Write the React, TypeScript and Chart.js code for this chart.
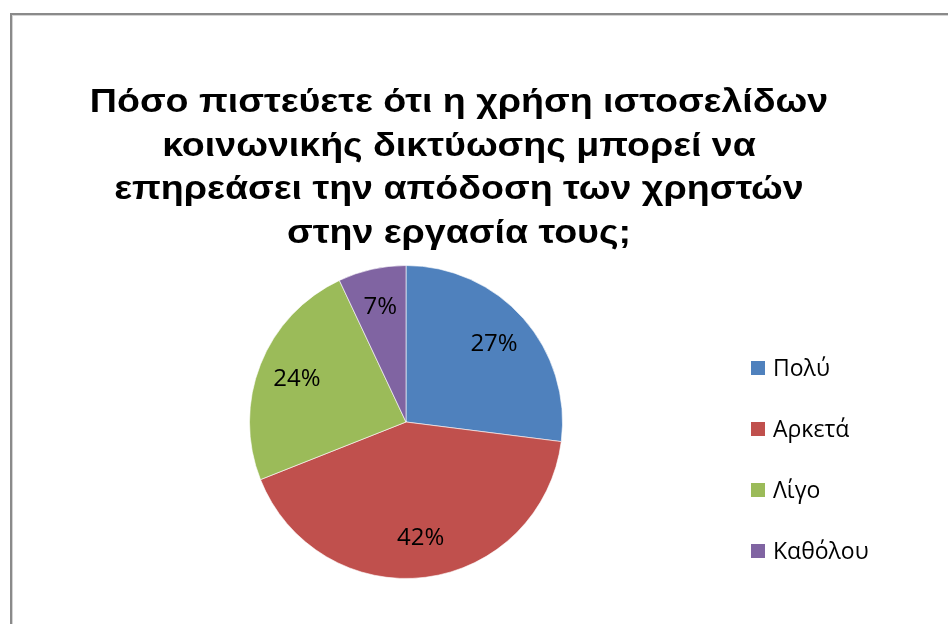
import React, { useEffect, useRef } from "react";
import { Chart, registerables } from "chart.js";

Chart.register(...registerables);

const titleLines = [
  "Πόσο πιστεύετε ότι η χρήση ιστοσελίδων",
  "κοινωνικής δικτύωσης μπορεί να",
  "επηρεάσει την απόδοση των χρηστών",
  "στην εργασία τους;",
];
const categories = ["Πολύ", "Αρκετά", "Λίγο", "Καθόλου"];
const values = [27, 42, 24, 7];
const colors = ["#4F81BD", "#C0504D", "#9BBB59", "#8064A2"];

const decorPlugin = {
  id: "decor",
  beforeDraw(chart: any) {
    const ctx = chart.ctx;
    ctx.save();
    ctx.fillStyle = "#ffffff";
    ctx.fillRect(0, 0, chart.width, chart.height);
    // frame
    ctx.fillStyle = "#8a8a8a";
    ctx.fillRect(10, 13, 2, chart.height);
    ctx.fillRect(10, 13, chart.width, 2);
    ctx.fillStyle = "#d4d4d4";
    ctx.fillRect(12, 15, 1, chart.height);
    ctx.fillRect(12, 15, chart.width, 1);
    ctx.restore();
  },
  afterDraw(chart: any) {
    const ctx = chart.ctx;
    ctx.save();
    // title
    ctx.fillStyle = "#000000";
    ctx.font = "bold 34px 'Liberation Sans'";
    ctx.textAlign = "center";
    ctx.textBaseline = "alphabetic";
    const baselines = [112, 155.5, 199, 242.5];
    ctx.save();
    ctx.translate(459, 0);
    ctx.scale(1.105, 1);
    titleLines.forEach((t, i) => ctx.fillText(t, 0, baselines[i]));
    ctx.restore();

    // data labels
    const meta = chart.getDatasetMeta(0);
    const total = values.reduce((a, b) => a + b, 0);
    ctx.font = "24px 'Open Sans'";
    ctx.textBaseline = "middle";
    meta.data.forEach((arc: any, i: number) => {
      const p = arc.getProps(["x", "y", "startAngle", "endAngle", "outerRadius"], true);
      const mid = (p.startAngle + p.endAngle) / 2;
      const r = p.outerRadius * 0.75;
      const pct = Math.round((values[i] / total) * 100) + "%";
      ctx.fillText(pct, p.x + Math.cos(mid) * r, p.y + Math.sin(mid) * r);
    });

    // legend
    const rows = [368, 429, 490, 551];
    ctx.textAlign = "left";
    ctx.font = "23px 'Open Sans'";
    categories.forEach((c, i) => {
      ctx.fillStyle = colors[i];
      ctx.fillRect(751, rows[i] - 7, 14, 14);
      ctx.fillStyle = "#000000";
      ctx.fillText(c, 773, rows[i] + 1);
    });
    ctx.restore();
  },
};

export default function App() {
  const ref = useRef<HTMLCanvasElement>(null);
  useEffect(() => {
    if (!ref.current) return;
    const chart = new Chart(ref.current, {
      type: "pie",
      data: {
        labels: categories,
        datasets: [
          {
            data: values,
            backgroundColor: colors,
            borderColor: "rgba(255,255,255,0.6)",
            borderWidth: 1,
          },
        ],
      },
      options: {
        animation: false,
        responsive: false,
        maintainAspectRatio: false,
        layout: { padding: { left: 249, top: 265, right: 385, bottom: 45 } },
        plugins: {
          legend: { display: false },
          title: { display: false },
          tooltip: { enabled: false },
        },
      },
      plugins: [decorPlugin],
    });
    return () => chart.destroy();
  }, []);
  return (
    <div style={{ position: "fixed", left: 0, top: 0, width: 948, height: 624 }}>
      <canvas ref={ref} width={948} height={624} style={{ width: 948, height: 624, display: "block" }} />
    </div>
  );
}
